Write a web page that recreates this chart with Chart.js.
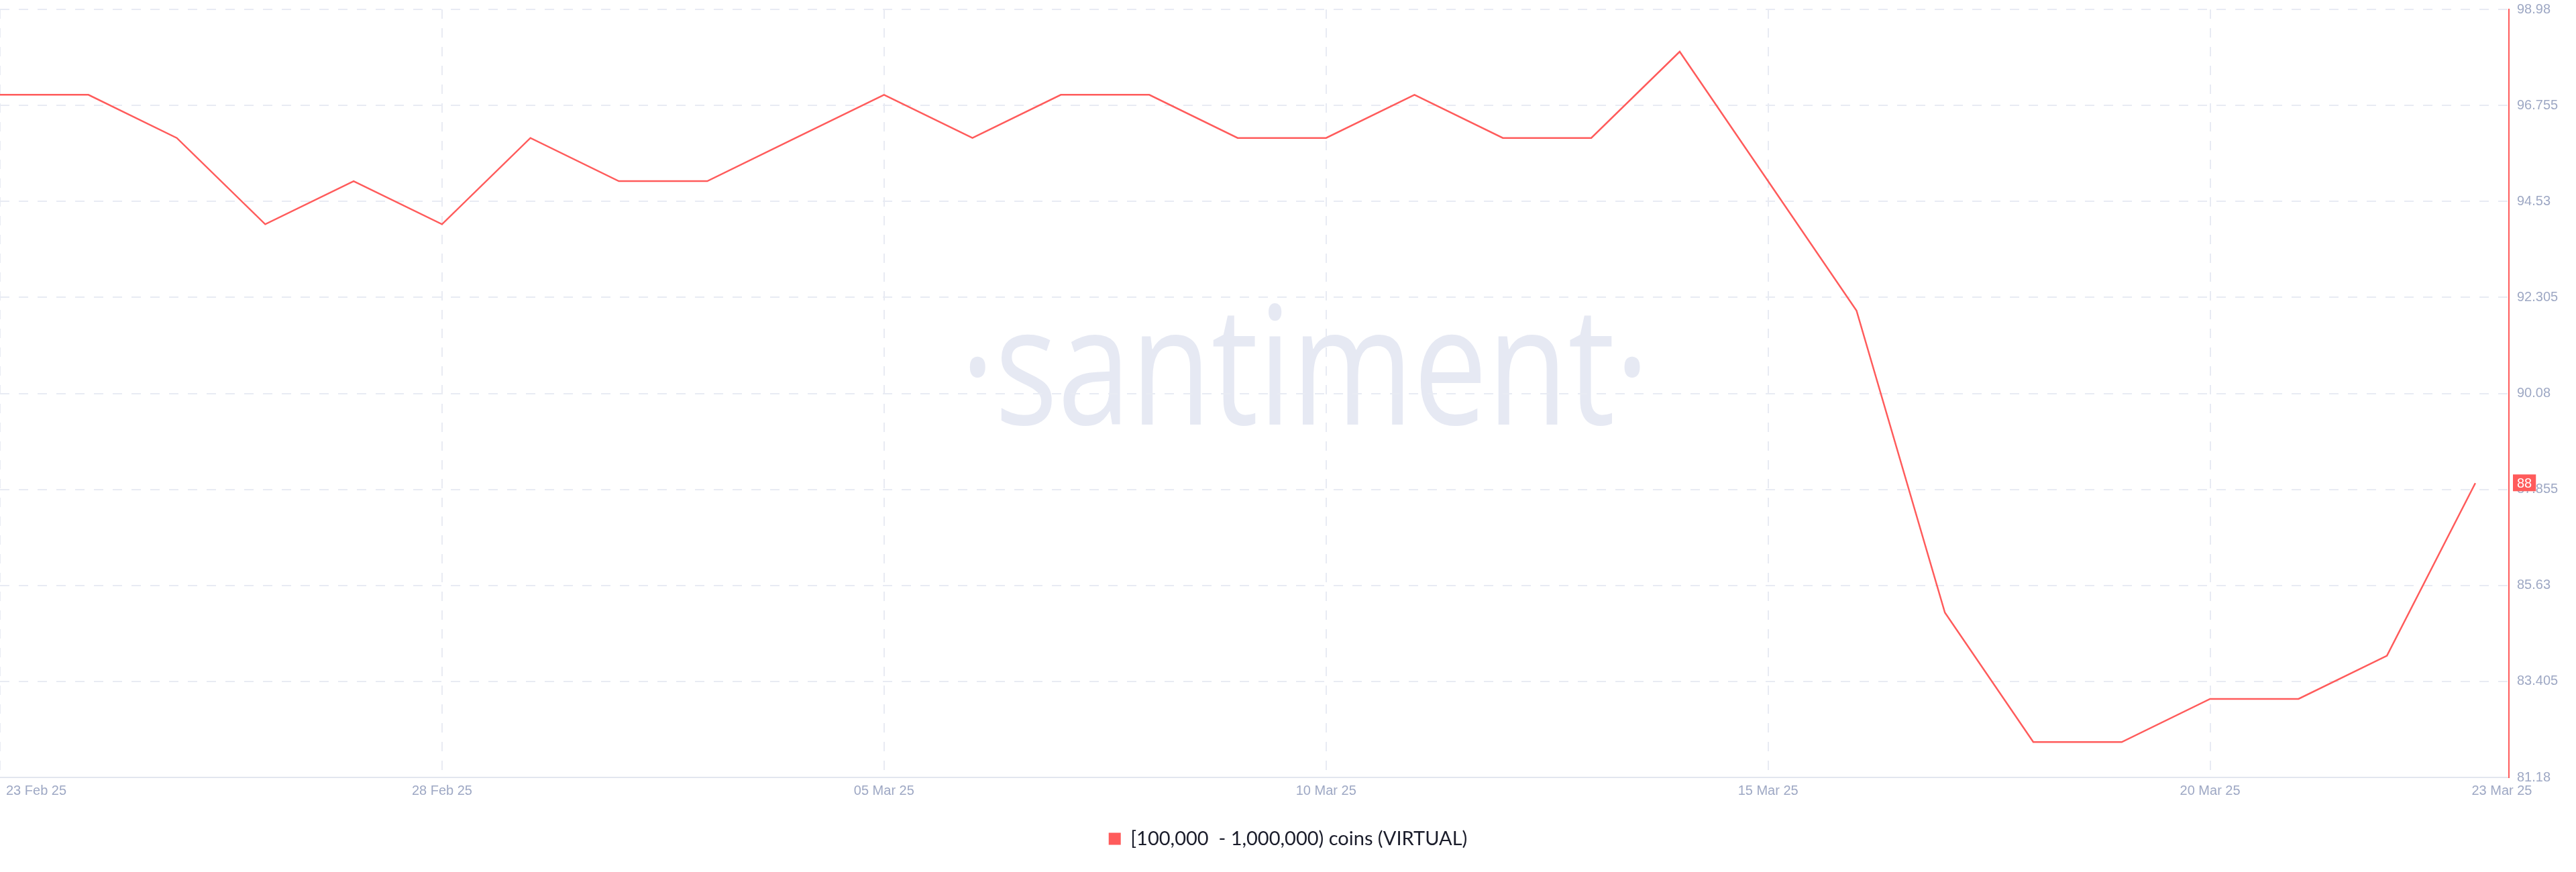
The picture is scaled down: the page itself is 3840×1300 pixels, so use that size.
<!DOCTYPE html>
<html>
<head>
<meta charset="utf-8">
<script src="https://cdn.jsdelivr.net/npm/chart.js@4.4.1/dist/chart.umd.min.js"></script>
<style>
html,body{margin:0;padding:0;background:#ffffff;}
#wrap{position:relative;width:3840px;height:1300px;}
canvas{display:block;}
</style>
</head>
<body>
<div id="wrap"><canvas id="c" width="3840" height="1300"></canvas></div>
<script>
// ---- data ----
const dates = ['23 Feb 25','24 Feb 25','25 Feb 25','26 Feb 25','27 Feb 25','28 Feb 25',
  '01 Mar 25','02 Mar 25','03 Mar 25','04 Mar 25','05 Mar 25','06 Mar 25','07 Mar 25',
  '08 Mar 25','09 Mar 25','10 Mar 25','11 Mar 25','12 Mar 25','13 Mar 25','14 Mar 25',
  '15 Mar 25','16 Mar 25','17 Mar 25','18 Mar 25','19 Mar 25','20 Mar 25','21 Mar 25',
  '22 Mar 25','23 Mar 25'];
const holders = [97,97,96,94,95,94,96,95,95,96,97,96,97,97,96,96,97,96,96,98,95,92,85,82,82,83,83,84,88];
const seriesLabel = '[100,000  - 1,000,000) coins (VIRTUAL)';
const xTickLabels = ['23 Feb 25','28 Feb 25','05 Mar 25','10 Mar 25','15 Mar 25','20 Mar 25','23 Mar 25'];
const yTickValues = [81.18, 83.405, 85.63, 87.855, 90.08, 92.305, 94.53, 96.755, 98.98];
const yTickLabels = ['81.18','83.405','85.63','87.855','90.08','92.305','94.53','96.755','98.98'];
const watermarkText = '\u00B7santiment\u00B7';

// ---- style ----
const lineColor = '#ff5b5b';
const gridColor = '#e8ebf3';
const tickColor = '#9ea8c4';
const xMaxPad = 0.38;       // extra room after the last day
const firstLabelShift = 0.41;
const lastLabelShift = 0.3;

const points = holders.map((v, i) => ({x: i, y: v}));
const lastIndex = dates.length - 1;

function buildXTicks() {
  const t = [{value: 0, text: '', grid: true}];
  xTickLabels.forEach((lab, k) => {
    const idx = dates.indexOf(lab);
    if (k === 0) t.push({value: idx + firstLabelShift, text: lab, grid: false});
    else if (k === xTickLabels.length - 1) t.push({value: idx + lastLabelShift, text: lab, grid: false});
    else t.push({value: idx, text: lab, grid: true});
  });
  return t;
}

const watermarkPlugin = {
  id: 'watermark',
  beforeDraw(chart) {
    const ctx = chart.ctx;
    ctx.save();
    ctx.font = '400 245px "Open Sans"';
    const m = ctx.measureText(watermarkText);
    const ink = m.actualBoundingBoxLeft + m.actualBoundingBoxRight;
    const sx = 1000 / ink;
    ctx.translate(1445, 633);
    ctx.scale(sx, 1);
    ctx.fillStyle = '#e6e9f3';
    ctx.textAlign = 'left';
    ctx.textBaseline = 'alphabetic';
    ctx.fillText(watermarkText, m.actualBoundingBoxLeft, 0);
    ctx.restore();
  }
};

const badgePlugin = {
  id: 'lastBadge',
  afterDraw(chart) {
    const ctx = chart.ctx;
    const ys = chart.scales.y;
    const area = chart.chartArea;
    const v = holders[lastIndex];
    const y = ys.getPixelForValue(v);
    ctx.save();
    ctx.font = '20px "Liberation Sans", Arial, sans-serif';
    const txt = String(v);
    const w = ctx.measureText(txt).width + 12;
    ctx.fillStyle = lineColor;
    ctx.fillRect(area.right + 6, y - 13, w, 25);
    ctx.fillStyle = '#ffffff';
    ctx.textAlign = 'center';
    ctx.textBaseline = 'middle';
    ctx.fillText(txt, area.right + 6 + w / 2, y + 1);
    ctx.restore();
  }
};

new Chart(document.getElementById('c'), {
  type: 'line',
  data: {
    datasets: [{
      label: seriesLabel,
      data: points,
      borderColor: lineColor,
      backgroundColor: lineColor,
      borderWidth: 2.5,
      pointRadius: 0,
      tension: 0,
      fill: false
    }]
  },
  options: {
    responsive: false,
    animation: false,
    devicePixelRatio: 1,
    layout: {padding: {top: 14, bottom: 25, left: 0, right: 0}},
    scales: {
      x: {
        type: 'linear',
        min: 0,
        max: lastIndex + xMaxPad,
        afterBuildTicks: (scale) => { scale.ticks = buildXTicks(); },
        afterFit: (scale) => { scale.height = 40; scale.paddingLeft = 0; scale.paddingRight = 0; },
        ticks: {
          autoSkip: false,
          maxRotation: 0,
          padding: 8,
          color: tickColor,
          font: {family: '"Liberation Sans", Arial, sans-serif', size: 20},
          callback: (v, i, ticks) => ticks[i].text
        },
        grid: {
          drawTicks: false,
          lineWidth: 2,
          color: (c) => (c.tick && c.tick.grid) ? gridColor : 'rgba(0,0,0,0)'
        },
        border: {display: true, color: '#e2e6ef', width: 2, dash: [14, 14]}
      },
      y: {
        position: 'right',
        min: yTickValues[0],
        max: yTickValues[yTickValues.length - 1],
        afterBuildTicks: (scale) => { scale.ticks = yTickValues.map(v => ({value: v})); },
        afterFit: (scale) => { scale.width = 100; scale.paddingTop = 0; scale.paddingBottom = 0; },
        ticks: {
          padding: 12,
          crossAlign: 'near',
          color: tickColor,
          font: {family: '"Liberation Sans", Arial, sans-serif', size: 20},
          callback: (v, i) => yTickLabels[i]
        },
        grid: {drawTicks: false, lineWidth: 2, color: gridColor},
        border: {display: true, color: lineColor, width: 2, dash: [14, 14]}
      }
    },
    plugins: {
      legend: {
        display: true,
        position: 'bottom',
        labels: {
          boxWidth: 18,
          boxHeight: 18,
          padding: 37,
          color: '#1b1d2b',
          font: {family: 'Lato, "Noto Sans", sans-serif', size: 29},
          generateLabels: (chart) => [{
            text: seriesLabel,
            fillStyle: lineColor,
            strokeStyle: lineColor,
            lineWidth: 0,
            hidden: false,
            datasetIndex: 0,
            fontColor: '#1b1d2b'
          }]
        }
      },
      tooltip: {enabled: false}
    }
  },
  plugins: [watermarkPlugin, badgePlugin]
});
</script>
</body>
</html>
